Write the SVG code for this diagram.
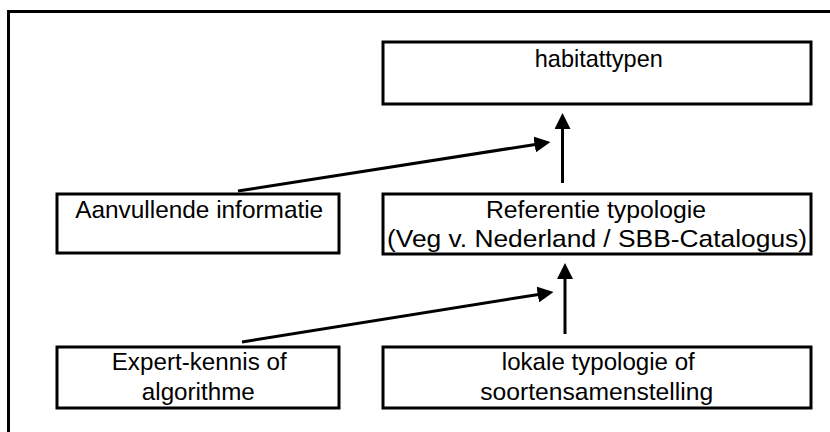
<svg xmlns="http://www.w3.org/2000/svg" width="830" height="432" viewBox="0 0 830 432">
  <style>
    .box { fill: #ffffff; stroke: #000000; stroke-width: 3; }
    .lbl { font-family: "Liberation Sans", Arial, sans-serif; font-size: 24.2px; fill: #000000; text-anchor: middle; }
    .con { stroke: #000000; stroke-width: 3; fill: none; marker-end: url(#ah); }
  </style>
  <defs>
    <marker id="ah" viewBox="0 0 16 16" refX="4" refY="8" markerWidth="16" markerHeight="16" markerUnits="userSpaceOnUse" orient="auto">
      <path d="M0,0 L16,8 L0,16 z" fill="#000000"/>
    </marker>
  </defs>
  <rect width="830" height="432" fill="#ffffff"/>
  <path d="M8.5,432 V11.5 H830" fill="none" stroke="#000000" stroke-width="3"/>

  <g id="habitattypen">
    <rect class="box" x="383" y="42" width="428" height="62"/>
    <text class="lbl" x="598.8" y="67" textLength="128" lengthAdjust="spacingAndGlyphs">habitattypen</text>
  </g>
  <g id="aanvullende">
    <rect class="box" x="57" y="194" width="282" height="59"/>
    <text class="lbl" x="199.2" y="217.5" textLength="248" lengthAdjust="spacingAndGlyphs">Aanvullende informatie</text>
  </g>
  <g id="referentie">
    <rect class="box" x="383" y="194" width="428" height="60"/>
    <text class="lbl" x="596" y="217.5" textLength="220" lengthAdjust="spacingAndGlyphs">Referentie typologie</text>
    <text class="lbl" x="597" y="247" textLength="420" lengthAdjust="spacingAndGlyphs">(Veg v. Nederland / SBB-Catalogus)</text>
  </g>
  <g id="expert">
    <rect class="box" x="57" y="347" width="282" height="61"/>
    <text class="lbl" x="199.2" y="370" textLength="175" lengthAdjust="spacingAndGlyphs">Expert-kennis of</text>
    <text class="lbl" x="198.3" y="400" textLength="113" lengthAdjust="spacingAndGlyphs">algorithme</text>
  </g>
  <g id="lokale">
    <rect class="box" x="383" y="347" width="428" height="61"/>
    <text class="lbl" x="598.3" y="370" textLength="193" lengthAdjust="spacingAndGlyphs">lokale typologie of</text>
    <text class="lbl" x="596.7" y="400" textLength="233" lengthAdjust="spacingAndGlyphs">soortensamenstelling</text>
  </g>

  <g id="connectors">
    <line class="con" x1="562.5" y1="183" x2="562.5" y2="125"/>
    <line class="con" x1="238" y1="191" x2="538.6" y2="143.9"/>
    <line class="con" x1="565" y1="334" x2="565" y2="275"/>
    <line class="con" x1="242" y1="342" x2="541.7" y2="293.9"/>
  </g>
</svg>
